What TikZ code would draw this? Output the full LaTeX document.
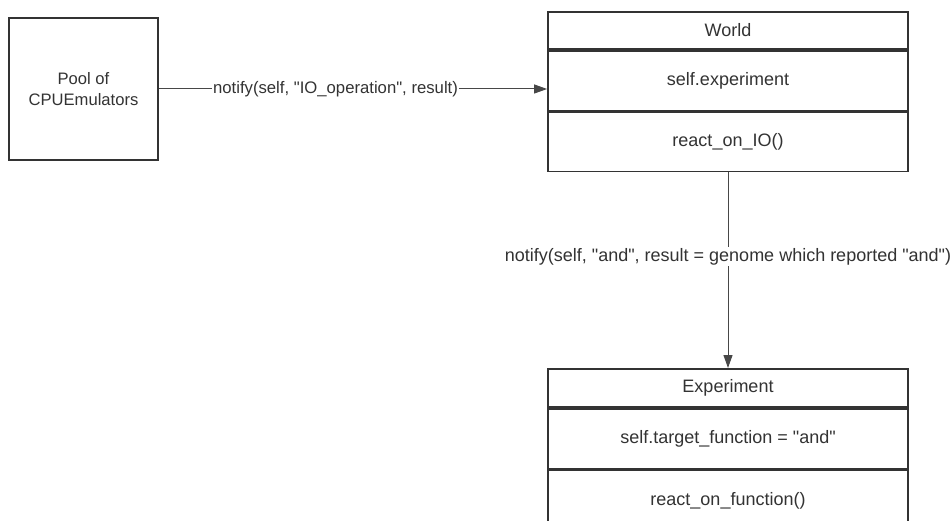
\documentclass[tikz,border=0pt]{standalone}
\usepackage{fontspec}
\setmainfont{Liberation Sans}[Ligatures=TeXOff]
\usetikzlibrary{arrows.meta}
\definecolor{ink}{HTML}{333333}
\tikzset{
  box/.style={draw=ink, line width=1.8pt, fill=white, text=ink, minimum width=360pt, inner sep=0pt, anchor=north, font=\fontsize{18}{21}\selectfont},
  pool/.style={draw=ink, line width=1.8pt, fill=white, text=ink, align=center, minimum width=149pt, minimum height=142pt, inner sep=0pt, font=\fontsize{16.6}{21}\selectfont},
  link/.style={draw=ink!90, line width=1pt, -{Triangle[length=13pt,width=9pt]}},
  tag/.style={fill=white, text=ink, inner sep=1pt}
}
\begin{document}
\begin{tikzpicture}[x=1pt, y=-1pt]
\useasboundingbox (0,0) rectangle (952,521);
\clip (0,0) rectangle (952,521);
\fill[white] (0,0) rectangle (952,521);

% source of IO notifications
\node[pool] (pool) at (83.5,89) {Pool of\\CPUEmulators};

% World class
\node[box, minimum height=37pt] (wname) at (728,11) {World};
\node[box, minimum height=60pt] (wattr) at (wname.south) {self.experiment};
\node[box, minimum height=59pt] (wmeth) at (wattr.south) {react\_on\_IO()};

% Experiment class
\node[box, minimum height=38pt] (ename) at (728,368) {Experiment};
\node[box, minimum height=60pt] (eattr) at (ename.south) {self.target\_function = "and"};
\node[box, minimum height=60pt] (emeth) at (eattr.south) {react\_on\_function()};

% notifications
\draw[link] (pool.east) -- node[tag, pos=0.455, font=\fontsize{16.7}{20}\selectfont] {notify(self, "IO\_operation", result)} (pool.east -| wattr.west);
\draw[link] (wmeth.south) -- node[tag, pos=0.43, font=\fontsize{18}{21}\selectfont] {notify(self, "and", result = genome which reported "and")} (ename.north);
\end{tikzpicture}
\end{document}
